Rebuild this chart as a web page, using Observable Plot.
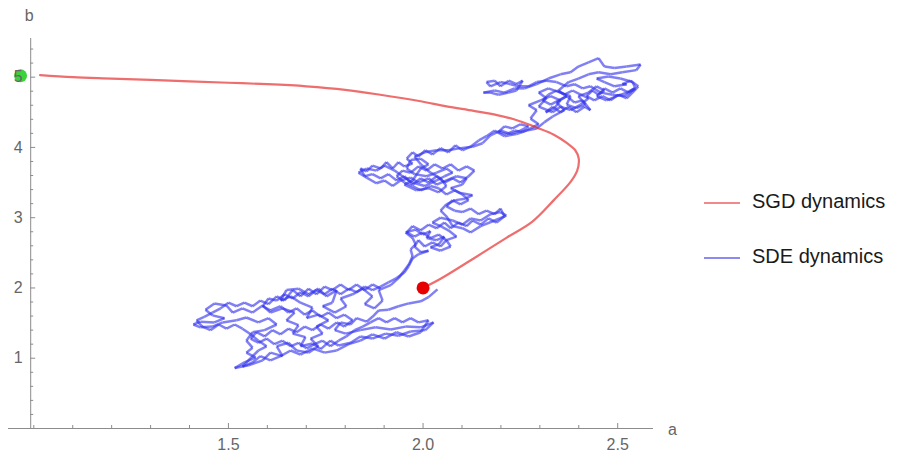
<!DOCTYPE html>
<html><head><meta charset="utf-8">
<script src="https://cdn.jsdelivr.net/npm/d3@7"></script>
<script src="https://cdn.jsdelivr.net/npm/@observablehq/plot@0.6"></script>
<style>
body{margin:0;background:#fff;font-family:"Liberation Sans",Arial,sans-serif}
#wrap{position:relative;width:904px;height:455px;overflow:hidden}
#wrap svg{position:absolute;left:0;top:0}
.sw{position:absolute;width:36px;height:2px}
.lb{position:absolute;font-size:20px;color:#1a1a1a;line-height:24px;white-space:nowrap}
</style></head><body><div id="wrap"></div><script>
// ---- data ----
const sgdA = [1.016,1.10,1.20,1.30,1.40,1.50,1.60,1.70,1.80,1.89,1.99,2.06,2.13,2.19,2.233,2.265,2.293,2.336,2.370,2.391,2.400,2.396,2.379,2.336,2.280,2.216,2.130,2.045,2.00];
const sgdB = [5.03,5.00,4.98,4.96,4.94,4.92,4.90,4.87,4.82,4.75,4.66,4.585,4.52,4.46,4.40,4.34,4.28,4.18,4.06,3.96,3.84,3.67,3.51,3.25,2.94,2.72,2.42,2.13,2.00];

const sdeA = [2.037,2.014,1.994,1.963,1.937,1.911,1.886,1.870,1.855,1.829,1.814,1.788,1.773,1.801,1.839,1.878,1.917,1.955,1.994,2.027,
2.006,1.968,1.937,1.904,1.870,1.839,1.814,1.783,1.762,1.737,1.716,1.685,1.698,1.665,1.680,1.649,1.670,1.639,1.608,1.588,
1.562,1.536,1.511,1.495,1.464,1.441,1.459,1.490,1.464,1.428,1.410,1.428,1.459,1.485,1.521,1.546,1.577,1.603,1.624,1.593,
1.562,1.546,1.562,1.546,1.570,1.541,1.516,1.552,1.588,1.608,1.639,1.624,1.654,1.675,1.706,1.731,1.711,1.742,1.726,1.757,
1.731,1.701,1.716,1.685,1.660,1.634,1.649,1.680,1.706,1.731,1.752,1.778,1.767,1.742,1.773,1.803,1.788,1.819,1.845,1.870,
1.850,1.875,1.896,1.886,1.917,1.937,1.952,1.965,1.973,1.968,1.981,1.973,1.955,1.981,1.999,2.019,2.009,2.035,2.055,2.040,
2.019,2.045,2.071,2.060,2.086,2.065,2.045,2.024,2.045,2.076,2.101,2.122,2.148,2.173,2.199,2.214,2.184,2.148,2.122,2.101,
2.076,2.060,2.045,2.060,2.083,2.109,2.127,2.096,2.071,2.101,2.112,2.086,2.060,2.035,2.014,1.988,1.968,1.942,1.922,1.901,
1.880,1.855,1.834,1.855,1.880,1.901,1.927,1.947,1.973,2.004,2.035,2.055,2.076,2.060,2.035,2.009,1.978,1.958,1.968,1.994,
2.014,1.994,1.973,1.952,1.983,2.014,2.040,2.060,2.045,2.019,1.994,1.978,2.004,2.035,2.065,2.096,2.127,2.153,2.173,2.199,
2.225,2.250,2.271,
2.250,2.230,2.209,2.194,2.214,2.235,2.255,2.276,
2.297,2.276,2.292,2.271,2.302,2.328,2.353,2.338,2.315,
2.333,2.353,2.374,2.394,2.415,2.430,2.410,2.389,2.369,2.348,2.328,2.307,2.322,2.343,2.363,2.384,2.405,2.425,2.405,2.379,2.353,2.333,
2.297,2.317,2.297,2.322,2.353,2.379,2.369,2.394,
2.417,2.399,2.425,2.446,2.466,2.446,2.471,2.497,2.523,2.543,
2.528,2.507,2.487,2.466,2.451,2.435,2.420,2.440,2.461,2.482,2.502,2.523,2.538,2.553,2.533,2.512,
2.523,2.492,2.466,2.446,2.476,2.507,2.538,2.546,2.518,2.487,
2.456,2.430,2.410,2.389,2.369,2.343,2.317,2.292,2.271,2.245,2.225,2.199,2.173,
2.163,2.184,2.199,2.220,2.240,2.256,2.240,2.220,2.194,2.173,
2.155,2.184,2.209,2.235,2.261,2.292,2.322,
2.353,2.379,2.399,2.425,2.451,2.466,2.492,2.523,2.559,2.548,2.512,2.482,2.451,2.425,2.399,2.374,2.348,2.369,2.343,2.363,
2.333,2.312,2.292,2.266,2.240,2.209,2.184,2.163,2.143,
2.122,2.101,2.083,2.065,2.045,2.024,2.006,1.988,1.973,1.958,1.973,1.952,1.937,1.922,1.906,1.891,1.870,1.855,1.839,1.850,
1.870,1.891,1.911,1.932,1.952,1.973,1.994,2.014,2.035,2.055,2.076,2.096,2.117,2.132,2.112,2.091,2.071,2.050,2.030,2.009,
1.988,1.968,1.947,1.932,1.952,1.973,1.994,2.019,2.040,2.060,2.081,2.101,2.117,2.096,2.076,2.060,2.081,
2.101,2.122,2.143,2.163,2.184,2.199,2.209,2.189,2.168,2.148,2.127,2.112,2.091,2.071,2.055,2.035,2.014,1.994,1.973,1.958,
1.978,1.999,2.019,2.040,2.060,2.045,2.024,2.004,1.988,1.978,1.994,2.014,
1.988,1.973,1.963,1.952,1.932,1.911,1.891,
1.870,1.850,1.829,1.809,1.788,1.767,1.747,1.726,1.706,1.685,1.665,1.644,1.624,1.603,1.588,1.608,1.634,1.654,1.675,1.696,
1.716,1.737,1.757,1.778,1.798,1.819,1.798,1.778,1.757,1.737,1.716,1.696,1.675,1.654,1.634,1.613,1.593,1.572,1.557,1.577,
1.598,1.618,1.639,1.660,1.680,1.701,1.721,1.742,1.762,1.783,1.803,1.824,1.845,1.865,1.886,1.906,1.927,1.947,1.968,1.988,
2.014,1.994,1.963,1.932,1.901,1.870,1.839,1.809,1.778,1.747,1.716,1.685,1.660,1.634,1.608,1.582,1.562,1.536,1.557,1.577,
1.598,1.577,1.557,1.536,1.516,1.495,1.475,1.454,1.433,1.418,1.438,1.459,1.480,1.500,1.521,1.541,1.562,1.582,1.603,1.624,
1.644,1.665,1.685,1.706,1.726,1.747,1.767,1.788,1.809,1.829,1.850,1.870,1.891];
const sdeB = [1.98,1.87,1.81,1.78,1.74,1.69,1.68,1.59,1.52,1.57,1.48,1.51,1.40,1.35,1.40,1.44,1.41,1.45,1.44,1.51,
1.40,1.38,1.32,1.35,1.28,1.31,1.22,1.18,1.25,1.13,1.21,1.17,1.30,1.35,1.47,1.54,1.65,1.71,1.65,1.75,
1.65,1.71,1.65,1.75,1.78,1.69,1.61,1.57,1.51,1.52,1.48,1.44,1.45,1.51,1.54,1.58,1.51,1.57,1.48,1.40,
1.37,1.25,1.15,1.08,1.01,0.94,0.86,0.90,0.97,1.08,1.03,1.17,1.22,1.11,1.08,1.17,1.28,1.35,1.45,1.54,
1.62,1.57,1.72,1.79,1.88,1.82,1.97,1.99,1.91,1.99,1.88,1.97,1.79,1.74,1.65,1.74,1.85,1.91,1.99,1.88,
1.77,1.71,1.82,1.97,2.04,2.14,2.25,2.35,2.45,2.55,2.62,2.71,2.79,2.83,2.76,2.81,2.71,2.68,2.73,2.62,
2.58,2.53,2.59,2.68,2.73,2.82,2.88,2.93,3.00,2.96,2.90,2.99,2.96,3.05,3.08,3.03,2.96,2.88,2.79,2.85,
2.88,3.02,3.10,3.19,3.25,3.27,3.32,3.35,3.42,3.47,3.56,3.59,3.53,3.47,3.56,3.50,3.57,3.53,3.45,3.53,
3.49,3.57,3.64,3.70,3.67,3.74,3.67,3.59,3.50,3.45,3.53,3.59,3.64,3.70,3.64,3.59,3.62,3.70,3.82,3.84,
3.76,3.70,3.53,3.47,3.39,3.42,3.36,3.45,3.56,3.64,3.76,3.87,3.93,3.96,3.96,3.99,4.01,4.06,4.17,4.24,
4.19,4.24,4.30,
4.33,4.27,4.30,4.22,4.19,4.24,4.22,4.27,
4.33,4.41,4.53,4.60,4.67,4.73,4.67,4.56,4.50,
4.58,4.50,4.58,4.50,4.58,4.53,4.67,4.64,4.73,4.67,4.61,4.67,4.75,4.81,4.75,4.81,4.75,4.70,4.61,4.53,4.58,4.50,
4.58,4.70,4.78,4.84,4.78,4.73,4.61,4.56,
4.61,4.73,4.78,4.87,4.81,4.73,4.67,4.73,4.78,4.84,
4.78,4.84,4.78,4.84,4.75,4.81,4.73,4.67,4.73,4.67,4.75,4.70,4.78,4.87,4.95,4.90,
4.90,4.87,4.93,4.98,5.01,4.98,4.93,4.84,4.73,4.75,
4.78,4.87,4.84,4.90,4.87,4.93,4.95,4.93,4.87,4.87,4.90,4.93,4.87,
4.93,4.95,4.87,4.95,4.90,4.95,4.81,4.78,4.75,4.78,
4.78,4.81,4.78,4.84,4.84,4.90,4.98,
5.04,5.07,5.15,5.21,5.27,5.15,5.13,5.15,5.18,5.10,5.07,5.04,5.07,5.04,4.98,4.93,4.81,4.73,4.64,4.53,
4.44,4.36,4.27,4.24,4.19,4.16,4.24,4.16,4.10,
4.01,3.96,4.03,3.93,3.99,3.90,3.96,3.87,3.93,3.84,3.77,3.73,3.79,3.70,3.79,3.70,3.74,3.66,3.70,3.59,
3.62,3.56,3.62,3.53,3.59,3.47,3.56,3.50,3.59,3.50,3.56,3.50,3.59,3.67,3.73,3.67,3.76,3.70,3.76,3.67,
3.73,3.64,3.67,3.59,3.50,3.45,3.39,3.45,3.42,3.33,3.39,3.33,3.25,3.19,3.25,3.16,3.10,
3.08,3.13,3.05,3.10,3.05,3.13,3.02,2.93,2.99,2.90,2.96,2.88,2.93,2.85,2.93,2.85,2.90,2.82,2.88,2.79,
2.73,2.79,2.71,2.76,2.68,2.59,2.65,2.59,2.68,2.59,2.51,2.53,
2.48,2.42,2.31,2.22,2.14,2.08,2.02,
1.97,2.02,1.94,1.99,1.91,1.99,1.91,1.97,1.88,1.94,1.85,1.91,1.82,1.85,1.74,1.68,1.74,1.65,1.71,1.62,
1.68,1.59,1.65,1.57,1.62,1.54,1.45,1.51,1.42,1.48,1.40,1.45,1.37,1.42,1.34,1.40,1.31,1.37,1.28,1.22,
1.28,1.20,1.25,1.17,1.22,1.14,1.20,1.25,1.17,1.25,1.31,1.40,1.45,1.51,1.57,1.51,1.57,1.51,1.57,1.51,
1.54,1.37,1.31,1.37,1.28,1.34,1.25,1.20,1.11,1.08,1.14,1.05,1.11,1.03,0.97,1.03,0.94,0.88,1.00,1.11,
1.17,1.25,1.34,1.42,1.48,1.42,1.48,1.40,1.45,1.54,1.59,1.65,1.71,1.79,1.74,1.79,1.74,1.82,1.77,1.88,
1.82,1.97,1.88,1.99,1.91,2.02,1.97,2.05,1.97,2.05,1.97,2.05,1.99];

const startPoint = [{a: 2.0, b: 2.0}];
const optimumPoint = [{a: 0.966, b: 5.02}];

const xMajorTicks = [1.5, 2.0, 2.5];
const xMinorTicks = [1.0,1.1,1.2,1.3,1.4,1.6,1.7,1.8,1.9,2.1,2.2,2.3,2.4];
const yMajorTicks = [1, 2, 3, 4, 5];
const yMinorTicks = [0.2,0.4,0.6,0.8,1.2,1.4,1.6,1.8,2.2,2.4,2.6,2.8,3.2,3.4,3.6,3.8,4.2,4.4,4.6,4.8,5.2,5.4];
const xAxisLabel = "a", yAxisLabel = "b";
const seriesNames = ["SGD dynamics", "SDE dynamics"];
const seriesColors = ["#f08a8a", "#8a8af2"];

// ---- layout ----
const W = 700, H = 455, mL = 8, mR = 47, mT = 38, mB = 27;
const X_START = 0.935, X_END = 2.592, Y_TOP = 5.55, AXIS_X = 0.992;
const uPerPxX = (X_END - X_START) / (W - mL - mR);
const uPerPxY = Y_TOP / (H - mT - mB);
const axisColor = "#8c8c8c", labelColor = "#666";

const n = Math.min(sdeA.length, sdeB.length);
const sgd = sgdA.map((a, i) => ({a, b: sgdB[i]}));
const sdeSegments = d3.range(n - 1).map(i => ({x1: sdeA[i], y1: sdeB[i], x2: sdeA[i + 1], y2: sdeB[i + 1]}));

const chart = Plot.plot({
  width: W, height: H,
  marginLeft: mL, marginRight: mR, marginTop: mT, marginBottom: mB,
  x: {domain: [X_START, X_END], axis: null},
  y: {domain: [0, Y_TOP], axis: null},
  style: {fontFamily: "'Liberation Sans', Arial, sans-serif", fontSize: "16px", background: "white", overflow: "visible"},
  marks: [
    Plot.ruleY([0], {x1: X_START, x2: X_END, stroke: axisColor, strokeWidth: 1}),
    Plot.ruleX([AXIS_X], {y1: 0, y2: Y_TOP, stroke: axisColor, strokeWidth: 1}),
    Plot.ruleX(xMajorTicks, {x: d => d, y1: 0, y2: 5 * uPerPxY, stroke: axisColor}),
    Plot.ruleX(xMinorTicks, {x: d => d, y1: 0, y2: 3 * uPerPxY, stroke: axisColor}),
    Plot.ruleY(yMajorTicks, {y: d => d, x1: AXIS_X, x2: AXIS_X + 5 * uPerPxX, stroke: axisColor}),
    Plot.ruleY(yMinorTicks, {y: d => d, x1: AXIS_X, x2: AXIS_X + 3 * uPerPxX, stroke: axisColor}),
    Plot.link(sdeSegments, {x1: "x1", y1: "y1", x2: "x2", y2: "y2", stroke: "#3232ee", strokeOpacity: 0.62, strokeWidth: 2.5, strokeLinecap: "butt", strokeLinejoin: "round"}),
    Plot.line(sgd, {x: "a", y: "b", stroke: "#e62828", strokeOpacity: 0.68, strokeWidth: 2.2, curve: "catmull-rom"}),
    Plot.dot(optimumPoint, {x: "a", y: "b", r: 6.5, fill: "#3ad43a", stroke: "none"}),
    Plot.dot(startPoint, {x: "a", y: "b", r: 6.5, fill: "#e60000", stroke: "none"}),
    Plot.text(xMajorTicks, {x: d => d, y: 0, dy: 16.5, text: d => d.toFixed(1), fill: labelColor, fontSize: 16}),
    Plot.text(yMajorTicks, {x: AXIS_X, y: d => d, dx: -8, text: d => String(d), textAnchor: "end", fill: labelColor, fontSize: 16}),
    Plot.text([xAxisLabel], {x: X_END, y: 0, dx: 19, dy: 1, text: d => d, fill: labelColor, fontSize: 16}),
    Plot.text([yAxisLabel], {x: AXIS_X, y: Y_TOP, dx: -1.5, dy: -23, text: d => d, fill: labelColor, fontSize: 16})
  ]
});

const wrap = document.getElementById("wrap");
wrap.appendChild(chart);

const legend = d3.select(wrap);
seriesNames.forEach((name, i) => {
  const cy = 202.5 + i * 55;
  legend.append("div").attr("class", "sw").style("left", "704px").style("top", (cy - 1) + "px").style("background", seriesColors[i]);
  legend.append("div").attr("class", "lb").style("left", "752px").style("top", (cy - 14) + "px").text(name);
});
</script></body></html>
